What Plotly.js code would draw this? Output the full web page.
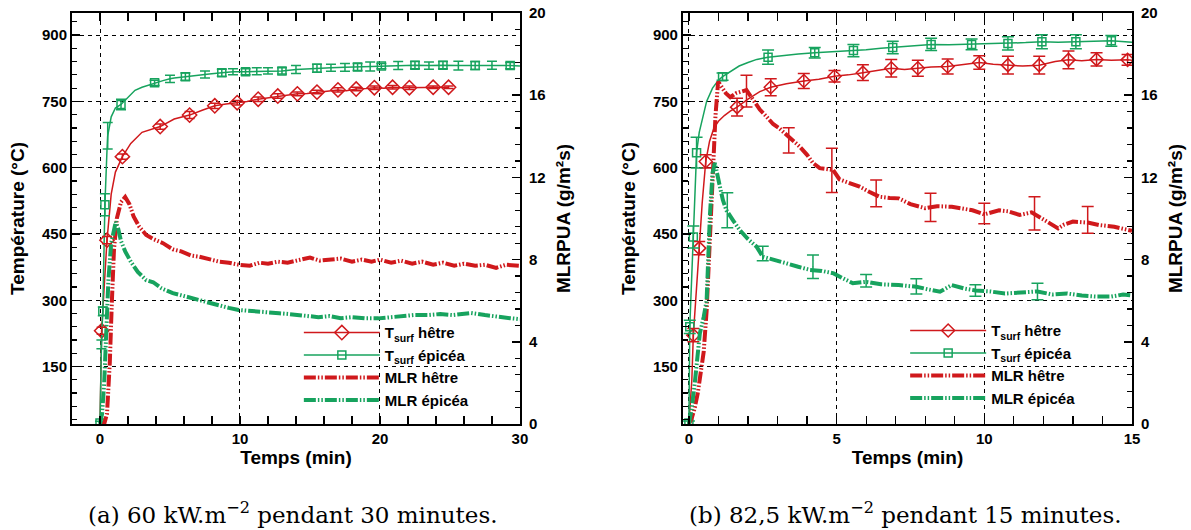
<!DOCTYPE html>
<html>
<head>
<meta charset="utf-8">
<script src="https://cdn.plot.ly/plotly-3.0.1.min.js"></script>
<style>html,body{margin:0;padding:0;background:#fff;}#chart{width:1191px;height:530px;}</style>
</head>
<body>
<div id="chart"></div>
<script>
// ---------- (a) 60 kW/m2, 30 min ----------
const aTH_t = [0,0.12,0.3,0.5,0.8,1.1,1.6,2.2,3,4.3,5.3,6.4,7.3,8.2,9,9.8,10.5,11.3,12,12.7,13.4,14.1,14.8,15.5,16.3,17,17.6,18.3,19,19.6,20.3,20.9,21.5,22.1,23,23.8,24.4,24.9];
const aTH_v = [20,231,330,436,540,590,625,655,680,693,710,719,730,740,744,747,750,755,758,762,765,767,768,771,773,776,774,778,779,781,780,782,781,781,782,782,781,782];
const aTH_mark = [0.12,0.5,1.6,4.3,6.4,8.2,9.8,11.3,12.7,14.1,15.5,17.0,18.3,19.6,20.9,22.1,23.8,24.9];
const aTH_err  = [8,8,6,6,8,6,5,5,5,4,4,5,4,4,4,4,3,3];

const aTE_t = [0,0.1,0.2,0.35,0.5,0.55,0.8,1.1,1.5,2,2.5,3,3.9,4.5,5,5.3,6.1,7,7.5,7.8,8.7,9.5,10.4,11.2,12,13,14,15,15.5,16.5,17.5,18.4,19.3,20.1,21.3,22.5,23.5,24.5,25.6,26.8,28,29.3,30];
const aTE_v = [22,200,275,516,640,672,715,735,743,760,775,782,792,797,801,803,806,810,811,812,815,817,817,818,819,819,822,824,825,826,827,828,829,830,831,832,831,832,831,831,832,831,830];
const aTE_mark = [0,0.2,0.35,1.5,3.9,6.1,8.7,10.4,13.0,15.5,18.4,20.1,22.5,24.5,26.8,29.3];
const aTE_err  = [4,10,25,12,6,8,8,7,7,9,8,6,8,8,9,7];
const aTE_barT = [0.1,0.55,5,7.5,9.5,11.2,12,14,16.5,17.5,19.3,21.3,23.5,25.6,28];
const aTE_barE = [10,30,8,8,7,8,7,9,8,9,10,9,8,10,9];

const aMH_t = [0,0.3,0.5,0.7,0.85,1.0,1.2,1.5,1.8,2.1,2.4,2.8,3.3,3.8,4.5,5.2,5.8,6.5,7.1,7.8,8.5,9.2,10,10.7,11.4,12,12.7,13.4,14.2,15,15.7,16.4,17.2,18,18.7,19.4,20,20.8,21.5,22.3,23,23.8,24.5,25.3,26,26.8,27.5,28.3,29,30];
const aMH_v = [0,0,0.5,3,6,8.5,10,10.8,11.05,10.7,10.1,9.6,9.2,9.0,8.8,8.5,8.4,8.2,8.14,8.0,7.9,7.85,7.74,7.7,7.85,7.8,7.9,7.85,8.0,8.1,7.95,8.0,8.05,7.9,8.0,7.9,8.0,7.85,7.95,7.8,7.9,7.75,7.85,7.7,7.8,7.7,7.75,7.6,7.75,7.7];

const aME_t = [0,0.15,0.3,0.45,0.6,0.8,1.0,1.13,1.3,1.5,1.8,2.2,2.7,3.3,3.8,4.4,5.2,5.8,6.5,7.1,7.8,8.5,9.2,9.9,10.6,11.3,12,12.8,13.5,14.3,15,15.6,16.4,17.2,18,18.9,19.9,20.7,21.5,22.4,23.4,24.3,25.2,26,26.5,27.5,28.5,29.3,30];
const aME_v = [0,0.5,2,4.5,7,8.8,9.6,9.85,9.5,8.9,8.4,7.9,7.4,7.0,6.9,6.6,6.37,6.25,6.1,6.03,5.9,5.75,5.65,5.55,5.5,5.45,5.42,5.39,5.35,5.3,5.25,5.2,5.25,5.15,5.2,5.14,5.14,5.2,5.25,5.3,5.3,5.35,5.3,5.35,5.4,5.3,5.2,5.15,5.1];

// ---------- (b) 82,5 kW/m2, 15 min ----------
const bTH_t = [0,0.1,0.15,0.25,0.35,0.45,0.57,0.7,0.85,1.0,1.2,1.4,1.63,2,2.4,2.77,3.3,3.89,4.4,4.93,5.4,5.89,6.4,6.85,7.3,7.75,8.2,8.76,9.3,9.83,10.3,10.8,11.3,11.86,12.4,12.85,13.3,13.8,14.3,14.85,15];
const bTH_v = [20,120,221,330,418,520,614,660,690,705,718,728,737,755,772,782,790,796,800,807,810,815,820,825,822,825,828,829,833,838,834,832,830,832,840,844,842,845,843,844,843];
const bTH_mark = [0.15,0.35,0.57,1.63,2.77,3.89,4.93,5.89,6.85,7.75,8.76,9.83,10.8,11.86,12.85,13.8,14.85];
const bTH_err  = [15,15,15,20,19,17,13,18,20,18,17,15,20,20,20,15,12];

const bTE_t = [0,0.03,0.1,0.15,0.2,0.26,0.35,0.45,0.6,0.8,1.0,1.14,1.4,1.7,2.0,2.3,2.68,3.2,3.7,4.26,4.8,5.2,5.57,6.0,6.5,6.9,7.5,8.2,8.8,9.57,10.2,10.8,11.4,11.95,12.5,13.1,13.7,14.3,15];
const bTE_v = [22,240,360,443,540,634,680,710,750,780,798,806,818,830,838,845,850,854,857,860,862,864,865,867,870,872,875,879,878,879,880,881,883,885,884,885,886,887,884];
const bTE_mark = [0,0.03,0.15,0.26,1.14,2.68,4.26,5.57,6.9,8.2,9.57,10.8,11.95,13.1,14.3];
const bTE_err  = [5,15,25,35,8,16,12,14,14,14,12,15,16,16,12];

const bMH_t = [0,0.1,0.2,0.3,0.4,0.5,0.6,0.7,0.8,0.9,0.99,1.1,1.25,1.4,1.6,1.95,2.15,2.4,2.6,2.85,3.05,3.3,3.5,3.75,4.0,4.2,4.43,4.65,4.88,5.1,5.4,5.78,6.1,6.45,6.8,7.1,7.5,8.0,8.4,8.9,9.2,9.6,10.0,10.5,10.8,11.2,11.6,12.1,12.5,12.7,13.0,13.5,13.9,14.4,14.9,15];
const bMH_v = [0,0.3,0.8,1.5,2.5,3.5,5.5,9,12.5,15,16.66,16.4,16.1,15.9,16.1,16.25,15.8,15.3,15.0,14.6,14.4,14.1,13.8,13.5,13.1,12.7,12.45,12.4,12.36,11.9,11.75,11.55,11.3,11.06,11.0,10.98,10.7,10.5,10.6,10.57,10.5,10.4,10.2,10.4,10.35,10.17,10.3,9.85,9.52,9.7,9.85,9.8,9.68,9.6,9.44,9.4];
const bMHe_t = [1.95,3.38,4.84,6.34,8.18,10.0,11.7,13.5];
const bMHe_v = [16.2,13.8,12.34,11.22,10.54,10.24,10.25,9.93];
const bMHe_e = [0.77,0.61,1.08,0.65,0.69,0.5,0.81,0.65];

const bME_t = [0,0.05,0.09,0.2,0.37,0.5,0.6,0.71,0.8,0.88,0.95,1.05,1.15,1.27,1.5,1.72,2.0,2.29,2.5,2.9,3.3,3.7,4.1,4.5,4.9,5.2,5.55,6.0,6.5,7.1,7.7,8.1,8.5,8.9,9.3,9.7,10.2,10.7,11.2,11.8,12.3,12.8,13.3,13.8,14.3,14.7,15];
const bME_v = [0,0.3,0.7,2,4.4,5.2,6,10.1,12.2,12.7,12.3,11.55,10.9,10.4,9.9,9.44,9.0,8.63,8.14,8.0,7.82,7.65,7.5,7.45,7.33,7.1,6.85,6.92,6.8,6.76,6.68,6.55,6.44,6.76,6.6,6.5,6.45,6.35,6.4,6.45,6.3,6.35,6.25,6.2,6.2,6.3,6.25];
const bMEe_t = [1.3,2.5,4.2,6.0,7.7,9.7,11.8];
const bMEe_v = [10.4,8.3,7.65,6.97,6.7,6.5,6.45];
const bMEe_e = [0.85,0.35,0.57,0.3,0.37,0.28,0.4];

const legendNames = ['T<sub>surf</sub> hêtre','T<sub>surf</sub> épicéa','MLR hêtre','MLR épicéa'];
const captions = ['(a) 60 kW.m<sup>−2</sup> pendant 30 minutes.','(b) 82,5 kW.m<sup>−2</sup> pendant 15 minutes.'];

// ---------- styling ----------
const RED = '#d0191c';
const GREEN = '#17a35e';
const MLRDASH = '12px,2px,1.5px,2px,1.5px,2px';
const FONT = 'Liberation Sans, Arial, sans-serif';

function idxOf(ts, list) {
  return list.map(m => { let best = 0; ts.forEach((t, i) => { if (Math.abs(t - m) < Math.abs(ts[best] - m)) best = i; }); return best; });
}
function valsAt(ts, vs, list) { return idxOf(ts, list).map(i => vs[i]); }

function tempTrace(ts, vs, marks, color, symbol, size, xa, ya, name, leg) {
  return {x: ts, y: vs, xaxis: xa, yaxis: ya, type: 'scatter', mode: 'lines+markers', name, legend: leg,
          line: {color, width: 1.5}, marker: {symbol, size, color, line: {color, width: 1.5}},
          selectedpoints: idxOf(ts, marks), unselected: {marker: {opacity: 0}}, hoverinfo: 'skip'};
}
function errTrace(x, y, e, color, xa, ya, w) {
  return {x, y, xaxis: xa, yaxis: ya, type: 'scatter', mode: 'markers', showlegend: false,
          marker: {size: 1, color}, hoverinfo: 'skip',
          error_y: {type: 'data', array: e, visible: true, color, thickness: 1.5, width: w || 5}};
}
function mlrTrace(x, y, color, xa, ya, name, leg) {
  return {x, y, xaxis: xa, yaxis: ya, type: 'scatter', mode: 'lines', name, legend: leg,
          line: {color, width: 4, dash: MLRDASH}, hoverinfo: 'skip'};
}

const data = [
  tempTrace(aTH_t, aTH_v, aTH_mark, RED, 'diamond-open', 11, 'x', 'y', legendNames[0], 'legend'),
  tempTrace(aTE_t, aTE_v, aTE_mark, GREEN, 'square-open', 8, 'x', 'y', legendNames[1], 'legend'),
  mlrTrace(aMH_t, aMH_v, RED, 'x', 'y2', legendNames[2], 'legend'),
  mlrTrace(aME_t, aME_v, GREEN, 'x', 'y2', legendNames[3], 'legend'),
  errTrace(aTH_mark, valsAt(aTH_t, aTH_v, aTH_mark), aTH_err, RED, 'x', 'y'),
  errTrace(aTE_mark, valsAt(aTE_t, aTE_v, aTE_mark), aTE_err, GREEN, 'x', 'y'),
  errTrace(aTE_barT, valsAt(aTE_t, aTE_v, aTE_barT), aTE_barE, GREEN, 'x', 'y'),
  tempTrace(bTH_t, bTH_v, bTH_mark, RED, 'diamond-open', 10, 'x2', 'y3', legendNames[0], 'legend2'),
  tempTrace(bTE_t, bTE_v, bTE_mark, GREEN, 'square-open', 8, 'x2', 'y3', legendNames[1], 'legend2'),
  mlrTrace(bMH_t, bMH_v, RED, 'x2', 'y4', legendNames[2], 'legend2'),
  mlrTrace(bME_t, bME_v, GREEN, 'x2', 'y4', legendNames[3], 'legend2'),
  errTrace(bTH_mark, valsAt(bTH_t, bTH_v, bTH_mark), bTH_err, RED, 'x2', 'y3', 6),
  errTrace(bTE_mark, valsAt(bTE_t, bTE_v, bTE_mark), bTE_err, GREEN, 'x2', 'y3', 6),
  errTrace(bMHe_t, bMHe_v, bMHe_e, RED, 'x2', 'y4', 6),
  errTrace(bMEe_t, bMEe_v, bMEe_e, GREEN, 'x2', 'y4', 6)
];

const tickFont = {family: FONT, size: 15, color: '#000', weight: 'bold'};
const titleFont = {family: FONT, size: 19, color: '#000', weight: 'bold'};

function xAxis(domain, range, dtick, minorDtick, anchor) {
  return {domain, range, anchor, dtick, tick0: 0, ticks: 'inside', ticklen: 8, tickwidth: 1.5, tickcolor: '#000',
    minor: {dtick: minorDtick, ticks: 'inside', ticklen: 5, tickwidth: 1.2, tickcolor: '#000', showgrid: false},
    showline: true, linecolor: '#000', linewidth: 2, mirror: 'allticks',
    showgrid: true, gridcolor: '#000', gridwidth: 1, griddash: '4px,4px', zeroline: false,
    tickfont: tickFont, title: {text: 'Temps (min)', font: titleFont, standoff: 5}};
}
function yLeft(anchor) {
  return {anchor, range: [20, 950], dtick: 150, tick0: 0, ticks: 'inside', ticklen: 8, tickwidth: 1.5, tickcolor: '#000',
    minor: {dtick: 30, ticks: 'inside', ticklen: 5, tickwidth: 1.2, tickcolor: '#000', showgrid: false},
    showline: true, linecolor: '#000', linewidth: 2, mirror: false,
    showgrid: true, gridcolor: '#000', gridwidth: 1, griddash: '4px,4px', zeroline: false,
    tickfont: tickFont, title: {text: 'Température (°C)', font: titleFont, standoff: 12}};
}
function yRight(anchor, overlay) {
  return {anchor, overlaying: overlay, side: 'right', range: [0, 20], dtick: 4, tick0: 0,
    ticks: 'inside', ticklen: 8, tickwidth: 1.5, tickcolor: '#000', ticklabelstandoff: 4,
    minor: {dtick: 0.8, ticks: 'inside', ticklen: 5, tickwidth: 1.2, tickcolor: '#000', showgrid: false},
    showline: true, linecolor: '#000', linewidth: 2, showgrid: false, zeroline: false,
    tickfont: tickFont, title: {text: 'MLRPUA (g/m²s)', font: titleFont, standoff: 12}};
}

const legendCommon = {bgcolor: 'rgba(0,0,0,0)', borderwidth: 0, itemwidth: 76, tracegroupgap: 0,
  font: {family: FONT, size: 15, color: '#000', weight: 'bold'}, xanchor: 'left', yanchor: 'top'};

const layout = {
  width: 1191, height: 530,
  margin: {l: 72, r: 59, t: 13, b: 106},
  paper_bgcolor: '#fff', plot_bgcolor: '#fff',
  showlegend: true,
  xaxis: xAxis([0, 0.4226], [-2, 30], 10, 2, 'y'),
  yaxis: yLeft('x'),
  yaxis2: yRight('x', 'y'),
  xaxis2: xAxis([0.5764, 1], [-0.2, 15], 5, 1, 'y3'),
  yaxis3: yLeft('x2'),
  yaxis4: yRight('x2', 'y3'),
  legend: Object.assign({x: 0.214, y: 0.262}, legendCommon),
  legend2: Object.assign({x: 0.786, y: 0.267}, legendCommon),
  annotations: [
    {text: captions[0], xref: 'paper', yref: 'paper', x: 0.2085, y: -0.2165, xanchor: 'center', yanchor: 'middle',
     showarrow: false, font: {family: 'DejaVu Serif, serif', size: 23, color: '#000'}},
    {text: captions[1], xref: 'paper', yref: 'paper', x: 0.786, y: -0.2165, xanchor: 'center', yanchor: 'middle',
     showarrow: false, font: {family: 'DejaVu Serif, serif', size: 23, color: '#000'}}
  ]
};

Plotly.newPlot('chart', data, layout, {displayModeBar: false, staticPlot: true});
</script>
</body>
</html>
